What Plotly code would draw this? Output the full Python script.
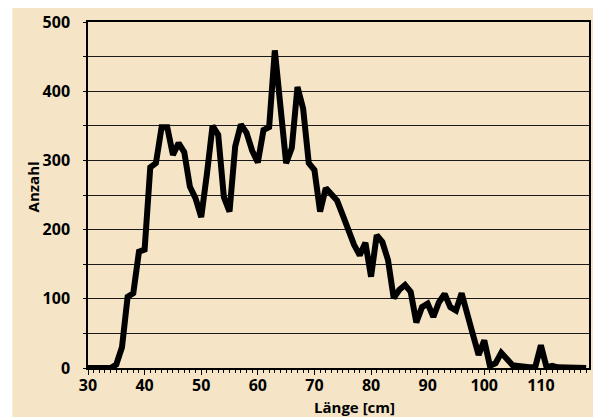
import plotly.graph_objects as go

laenge = list(range(30, 119))
anzahl = [0, 0, 0, 0, 0, 5, 30, 103, 108, 168,
          171, 290, 296, 348, 348, 308, 325, 312, 262, 245,
          218, 280, 350, 337, 247, 226, 320, 352, 340, 314,
          297, 344, 348, 459, 368, 296, 318, 406, 375, 296,
          286, 226, 260, 250, 242, 221, 199, 178, 163, 181,
          132, 192, 182, 156, 101, 113, 120, 110, 66, 88,
          93, 74, 95, 107, 88, 83, 108, 81, 48, 19,
          40, 3, 7, 22, 14, 4, 3, 1, 1, 1,
          33, 1, 3, 1, 1, 0, 0, 0, 0]

x_ticks = [30, 40, 50, 60, 70, 80, 90, 100, 110]
y_ticks = [0, 100, 200, 300, 400, 500]

BEIGE = "#F5E5C6"
TICKFONT = dict(family="Open Sans", size=16, color="black", weight=700)
TITLEFONT = dict(family="Open Sans", size=15, color="black", weight=700)

fig = go.Figure()
fig.add_trace(go.Scatter(x=laenge, y=anzahl, mode="lines",
                         line=dict(color="black", width=6, shape="linear"),
                         hoverinfo="skip", showlegend=False))

# white strips at top and left of the page
fig.add_shape(type="rect", xref="paper", yref="paper",
              x0=-0.2, x1=1.1, y0=1.0405, y1=1.1,
              fillcolor="white", line=dict(width=0), layer="above")
fig.add_shape(type="rect", xref="paper", yref="paper",
              x0=-0.2, x1=-0.151, y0=-0.2, y1=1.1,
              fillcolor="white", line=dict(width=0), layer="above")

fig.update_layout(
    width=593, height=417,
    margin=dict(l=88, r=2, t=22, b=49),
    paper_bgcolor=BEIGE,
    plot_bgcolor=BEIGE,
    font=TICKFONT,
    xaxis=dict(range=[30, 118.5], tickvals=x_ticks, ticktext=[str(v) for v in x_ticks],
               showgrid=False, zeroline=False, showline=True, linecolor="black",
               linewidth=1.5, mirror=True, ticks="outside", ticklen=5, tickwidth=1.2,
               tickcolor="black", tickfont=TICKFONT, ticklabelstandoff=-3,
               minor=dict(dtick=1, ticks="outside", ticklen=3.5, tickwidth=1, tickcolor="black",
                          showgrid=False)),
    yaxis=dict(range=[0, 500], tickvals=y_ticks, ticktext=[str(v) for v in y_ticks],
               showgrid=True, gridcolor="#1a1a1a", gridwidth=1.3,
               zeroline=False, showline=True, linecolor="black", linewidth=1.5, mirror=True,
               ticks="outside", ticklen=3, tickwidth=1.2, tickcolor="black", tickfont=TICKFONT,
               ticklabelstandoff=10,
               minor=dict(dtick=50, tick0=0, ticks="outside", ticklen=3, tickwidth=1.2,
                          tickcolor="black", showgrid=True, gridcolor="#1a1a1a", gridwidth=1.3)),
    annotations=[
        dict(text="Anzahl", xref="paper", yref="paper", x=-0.109, y=0.523,
             textangle=-90, showarrow=False, font=TITLEFONT, xanchor="center", yanchor="middle"),
        dict(text="Länge [cm]", xref="paper", yref="paper", x=0.531, y=-0.113,
             showarrow=False, font=TITLEFONT, xanchor="center", yanchor="middle"),
    ],
)

fig.write_html("out.html")
